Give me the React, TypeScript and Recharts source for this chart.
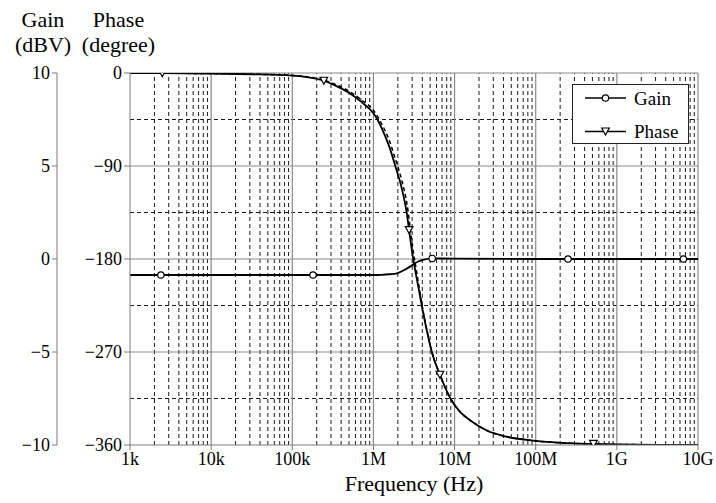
import React from 'react';
import { ComposedChart, Line, XAxis, YAxis, ReferenceLine, Legend } from 'recharts';

// Axis ticks
const freqTicks = [1e3, 1e4, 1e5, 1e6, 1e7, 1e8, 1e9, 1e10];
const freqTickLabels = ['1k', '10k', '100k', '1M', '10M', '100M', '1G', '10G'];
const gainTicks = [-10, -5, 0, 5, 10];
const phaseTicks = [-360, -270, -180, -90, 0];
const phaseHalfTicks = [-315, -225, -135, -45];
const minorMultipliers = [2, 3, 4, 5, 6, 7, 8, 9];

// Gain (dBV) versus frequency (Hz)
const gainFreq = [1e3, 2.4e3, 1e4, 1e5, 1.8e5, 1e6, 1.26e6, 1.58e6, 1.95e6, 2.34e6, 2.82e6, 3.24e6, 3.63e6, 4.07e6, 5.3e6, 1e7, 1e8, 2.5e8, 1e9, 6.6e9, 1e10];
const gainDb = [-0.86, -0.86, -0.86, -0.86, -0.86, -0.86, -0.85, -0.82, -0.77, -0.62, -0.41, -0.23, -0.12, -0.05, 0.03, 0.02, 0, 0, 0, 0, 0];
const gainMarkerFreq = [2.4e3, 1.8e5, 5.3e6, 2.5e8, 6.6e9];

// Phase (degree) versus frequency (Hz)
const phaseFreq = [1e3, 2.5e3, 1e4, 3.16e4, 1e5, 2.45e5, 3.16e5, 5.1e5, 7.1e5, 1e6, 1.12e6, 1.26e6, 1.58e6, 1.86e6, 2.24e6, 2.57e6, 2.75e6, 3.09e6, 3.5e6, 3.94e6, 4.57e6, 5.25e6, 6.6e6, 8.9e6, 1.17e7, 1.55e7, 2.5e7, 4.4e7, 1e8, 2.95e8, 5.15e8, 1e9, 3.16e9, 1e10];
const phaseDeg = [-0.1, -0.2, -0.6, -1.2, -2.5, -7.5, -11, -19.7, -28, -39, -45, -53, -72, -90, -112, -135, -152, -180, -203, -225, -250, -270, -292, -315, -328, -336, -346, -352, -356, -358.4, -359, -359.4, -359.8, -360];
const phaseMarkerFreq = [2.5e3, 2.45e5, 2.75e6, 6.6e6, 5.15e8];

// Reference phase trace (dashed)
const phaseRefFreq = [1e3, 1e4, 1e5, 3.16e5, 5.1e5, 7.1e5, 1e6, 1.26e6, 1.58e6, 1.86e6, 2.24e6, 2.57e6, 3.09e6, 3.5e6, 3.94e6, 4.57e6, 5.25e6, 6.6e6, 8.9e6, 1.17e7, 1.55e7, 2.5e7, 4.4e7, 1e8, 2.95e8, 1e9, 1e10];
const phaseRefDeg = [-0.1, -0.6, -2.3, -10, -18, -26, -36, -49, -66, -83, -104, -125, -172, -198, -223, -249, -270, -292, -315, -328, -336, -346, -352, -356, -358.4, -359.4, -360];

const gainData = gainFreq.map((f, i) => ({ f, v: gainDb[i] }));
const phaseData = phaseFreq.map((f, i) => ({ f, v: phaseDeg[i] }));
const phaseRefData = phaseRefFreq.map((f, i) => ({ f, v: phaseRefDeg[i] }));

const minorFreqs: number[] = [];
for (let d = 1e3; d < 1e10; d *= 10) {
  minorMultipliers.forEach((m) => minorFreqs.push(Math.round(m * d)));
}

const FONT = '"Liberation Serif"';
const GRID_SOLID = '#8a8a8a';
const GRID_DASH = '#1a1a1a';
const AXIS = '#7a7a7a';

const minus = (v: number) => (v < 0 ? '\u2212' + Math.abs(v) : String(v));

const GainDot = (props: any) => {
  const { cx, cy, payload, index } = props;
  if (!gainMarkerFreq.includes(payload.f)) return <g key={`g${index}`} />;
  return <circle key={`g${index}`} cx={cx} cy={cy} r={3.2} fill="#fff" stroke="#000" strokeWidth={1.2} />;
};

const triangle = (cx: number, cy: number) =>
  `M${cx - 3.8},${cy - 3.5} L${cx + 3.8},${cy - 3.5} L${cx},${cy + 3.5} Z`;

const PhaseDot = (props: any) => {
  const { cx, cy, payload, index } = props;
  if (!phaseMarkerFreq.includes(payload.f)) return <g key={`p${index}`} />;
  return <path key={`p${index}`} d={triangle(cx, cy)} fill="#fff" stroke="#000" strokeWidth={1.2} />;
};

const LegendBox = () => (
  <svg width={118} height={61} style={{ display: 'block' }}>
    <rect x={0.5} y={0.5} width={116} height={59} fill="#fff" stroke="#222" strokeWidth={1} />
    <line x1={13} y1={14} x2={54} y2={14} stroke="#000" strokeWidth={1.5} />
    <circle cx={33.5} cy={14} r={3.2} fill="#fff" stroke="#000" strokeWidth={1.2} />
    <text x={62} y={20.5} fontSize={19} style={{ fontFamily: FONT }} fill="#000">Gain</text>
    <line x1={13} y1={47.5} x2={54} y2={47.5} stroke="#000" strokeWidth={1.5} />
    <path d={triangle(33.5, 47.5)} fill="#fff" stroke="#000" strokeWidth={1.2} />
    <text x={62} y={54} fontSize={19} style={{ fontFamily: FONT }} fill="#000">Phase</text>
  </svg>
);

const XTick = (props: any) => {
  const { x, y, payload } = props;
  return (
    <text x={x} y={y + 13} textAnchor="middle" fontSize={18} style={{ fontFamily: FONT }} fill="#000">
      {freqTickLabels[freqTicks.indexOf(payload.value)] ?? ''}
    </text>
  );
};

const YTick = (props: any) => {
  const { x, y, payload } = props;
  return (
    <text x={x} y={y + 6} textAnchor="end" fontSize={18} style={{ fontFamily: FONT }} fill="#000">
      {minus(payload.value)}
    </text>
  );
};

// Axis headers and the frequency title
const Titles = () => (
  <svg width={716} height={503} style={{ position: 'absolute', left: 0, top: 0, pointerEvents: 'none' }}>
    <text x={43} y={27} textAnchor="middle" fontSize={22} style={{ fontFamily: FONT }}>Gain</text>
    <text x={43} y={52} textAnchor="middle" fontSize={22} style={{ fontFamily: FONT }}>(dBV)</text>
    <text x={118.5} y={27} textAnchor="middle" fontSize={22} style={{ fontFamily: FONT }}>Phase</text>
    <text x={118.5} y={52} textAnchor="middle" fontSize={22} style={{ fontFamily: FONT }}>(degree)</text>
    <text x={414} y={491} textAnchor="middle" fontSize={22} style={{ fontFamily: FONT }}>Frequency (Hz)</text>
  </svg>
);

export default function App() {
  return (
    <div style={{ position: 'absolute', left: 0, top: 0, width: 716, height: 503, background: '#fff' }}>
      <ComposedChart width={716} height={503} margin={{ top: 73, right: 18, bottom: 0, left: 0 }}>
        <XAxis
          dataKey="f"
          type="number"
          scale="log"
          domain={[1e3, 1e10]}
          ticks={freqTicks}
          interval={0}
          allowDataOverflow
          tick={<XTick />}
          tickSize={5}
          height={58}
          axisLine={{ stroke: AXIS }}
          tickLine={{ stroke: AXIS }}
        />
        <YAxis
          yAxisId="degree"
          type="number"
          domain={[-360, 0]}
          ticks={phaseTicks}
          interval={0}
          allowDataOverflow
          width={73}
          tickSize={6}
          tick={<YTick />}
          axisLine={{ stroke: AXIS }}
          tickLine={{ stroke: AXIS }}
        />
        <YAxis
          yAxisId="gain"
          type="number"
          domain={[-10, 10]}
          ticks={gainTicks}
          interval={0}
          allowDataOverflow
          width={57}
          tickSize={5}
          tick={<YTick />}
          axisLine={{ stroke: AXIS }}
          tickLine={{ stroke: AXIS }}
        />

        {minorFreqs.map((f) => (
          <ReferenceLine key={`mx${f}`} yAxisId="degree" x={f} stroke={GRID_DASH} strokeDasharray="4 3" strokeWidth={1} />
        ))}
        {phaseHalfTicks.map((p) => (
          <ReferenceLine key={`hy${p}`} yAxisId="degree" y={p} stroke={GRID_DASH} strokeDasharray="4 3" strokeWidth={1} />
        ))}
        {freqTicks.slice(1).map((f) => (
          <ReferenceLine key={`Mx${f}`} yAxisId="degree" x={f} stroke={GRID_SOLID} strokeWidth={1.2} />
        ))}
        {phaseTicks.slice(1).map((p) => (
          <ReferenceLine key={`My${p}`} yAxisId="degree" y={p} stroke={GRID_SOLID} strokeWidth={1.2} />
        ))}

        <Line
          yAxisId="degree"
          data={phaseRefData}
          dataKey="v"
          type="monotone"
          stroke="#000"
          strokeWidth={1.5}
          strokeDasharray="4 3"
          dot={false}
          legendType="none"
          isAnimationActive={false}
        />
        <Line
          yAxisId="gain"
          data={gainData}
          dataKey="v"
          name="Gain"
          type="monotone"
          stroke="#000"
          strokeWidth={1.8}
          dot={GainDot}
          activeDot={false}
          isAnimationActive={false}
        />
        <Line
          yAxisId="degree"
          data={phaseData}
          dataKey="v"
          name="Phase"
          type="monotone"
          stroke="#000"
          strokeWidth={1.8}
          dot={PhaseDot}
          activeDot={false}
          isAnimationActive={false}
        />
        <Legend
          layout="vertical"
          align="center"
          verticalAlign="middle"
          content={<LegendBox />}
          wrapperStyle={{ position: 'absolute', left: 572, top: 84, width: 118, height: 61 }}
        />
      </ComposedChart>
      <Titles />
    </div>
  );
}
